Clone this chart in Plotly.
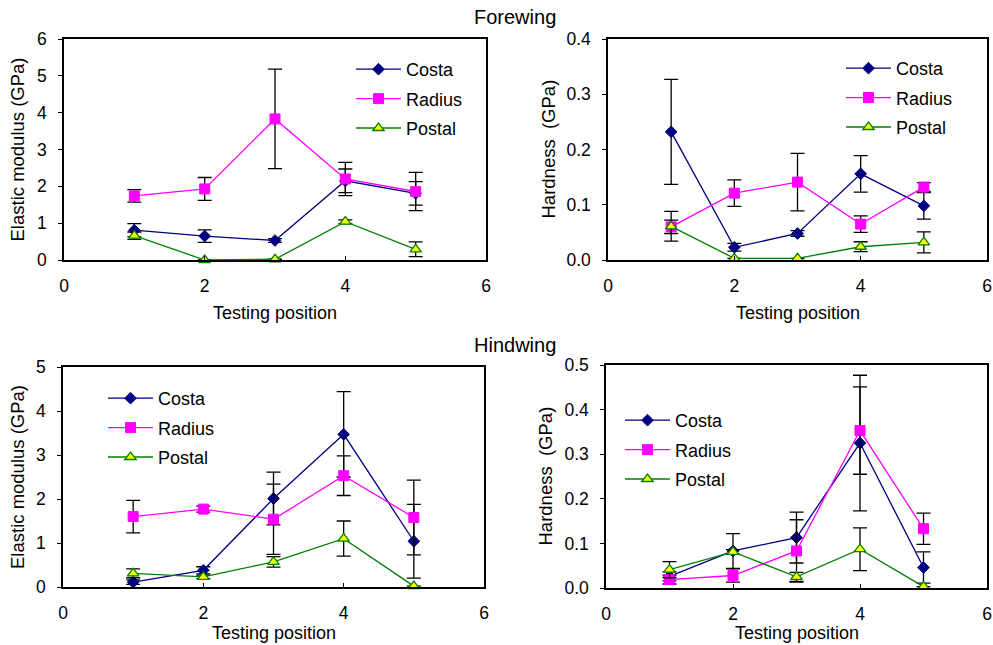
import plotly.graph_objects as go

positions = [1, 2, 3, 4, 5]
series_names = ["Costa", "Radius", "Postal"]

# Forewing elastic modulus (GPa)
fw_mod_costa = [0.81, 0.65, 0.53, 2.15, 1.81]
fw_mod_costa_err = [0.18, 0.17, 0.05, 0.32, 0.32]
fw_mod_radius = [1.74, 1.93, 3.83, 2.2, 1.86]
fw_mod_radius_err = [0.17, 0.31, 1.35, 0.45, 0.52]
fw_mod_postal = [0.66, 0.0, 0.02, 1.04, 0.29]
fw_mod_postal_err = [0.1, 0.0, 0.0, 0.05, 0.2]

# Forewing hardness (GPa)
fw_hd_costa = [0.232, 0.023, 0.048, 0.156, 0.098]
fw_hd_costa_err = [0.095, 0.007, 0.005, 0.033, 0.024]
fw_hd_radius = [0.06, 0.121, 0.141, 0.065, 0.132]
fw_hd_radius_err = [0.012, 0.024, 0.052, 0.015, 0.008]
fw_hd_postal = [0.061, 0.003, 0.003, 0.024, 0.032]
fw_hd_postal_err = [0.027, 0.0, 0.0, 0.009, 0.019]

# Hindwing elastic modulus (GPa)
hw_mod_costa = [0.11, 0.38, 2.01, 3.47, 1.04]
hw_mod_costa_err = [0.05, 0.08, 0.6, 0.97, 0.84]
hw_mod_radius = [1.6, 1.77, 1.54, 2.53, 1.58]
hw_mod_radius_err = [0.37, 0.07, 0.8, 0.45, 0.85]
hw_mod_postal = [0.31, 0.23, 0.57, 1.1, 0.02]
hw_mod_postal_err = [0.1, 0.04, 0.12, 0.4, 0.0]

# Hindwing hardness (GPa)
hw_hd_costa = [0.026, 0.083, 0.113, 0.325, 0.046]
hw_hd_costa_err = [0.01, 0.039, 0.057, 0.152, 0.035]
hw_hd_radius = [0.019, 0.028, 0.083, 0.353, 0.133]
hw_hd_radius_err = [0.01, 0.015, 0.07, 0.098, 0.035]
hw_hd_postal = [0.041, 0.081, 0.025, 0.087, 0.003]
hw_hd_postal_err = [0.018, 0.005, 0.01, 0.048, 0.0]

W, H = 993, 645
FONT = "Liberation Sans, Arial, sans-serif"

styles = {
    "Costa": dict(line=dict(color="#000080", width=1.3),
                  marker=dict(symbol="diamond", size=9, color="#000080",
                              line=dict(color="#000080", width=1))),
    "Radius": dict(line=dict(color="#FF00FF", width=1.3),
                   marker=dict(symbol="square", size=10, color="#FF00FF",
                               line=dict(color="#FF00FF", width=1))),
    "Postal": dict(line=dict(color="#008000", width=1.3),
                   marker=dict(symbol="triangle-up", size=10, color="#FFFF00",
                               line=dict(color="#008000", width=1.3))),
}

panels = [
    dict(vals=[fw_mod_costa, fw_mod_radius, fw_mod_postal],
         errs=[fw_mod_costa_err, fw_mod_radius_err, fw_mod_postal_err],
         xpx=(64, 486), ypx=(39, 260), yr=[0, 6], dt=1, fmt="d",
         ytitle="Elastic modulus (GPa)", ytx=17, leg=(351, 51)),
    dict(vals=[fw_hd_costa, fw_hd_radius, fw_hd_postal],
         errs=[fw_hd_costa_err, fw_hd_radius_err, fw_hd_postal_err],
         xpx=(608, 987), ypx=(39, 260), yr=[0, 0.4], dt=0.1, fmt=".1f",
         ytitle="Hardness  (GPa)", ytx=548, leg=(841, 50)),
    dict(vals=[hw_mod_costa, hw_mod_radius, hw_mod_postal],
         errs=[hw_mod_costa_err, hw_mod_radius_err, hw_mod_postal_err],
         xpx=(63, 484), ypx=(367, 587), yr=[0, 5], dt=1, fmt="d",
         ytitle="Elastic modulus (GPa)", ytx=17, leg=(103, 380)),
    dict(vals=[hw_hd_costa, hw_hd_radius, hw_hd_postal],
         errs=[hw_hd_costa_err, hw_hd_radius_err, hw_hd_postal_err],
         xpx=(606, 987), ypx=(365, 588), yr=[0, 0.5], dt=0.1, fmt=".1f",
         ytitle="Hardness  (GPa)", ytx=545, leg=(620, 402)),
]

fig = go.Figure()
annotations = []
layout = {}

for i, p in enumerate(panels):
    k = "" if i == 0 else str(i + 1)
    xa, ya = "x" + k, "y" + k
    legname = "legend" + k
    for name, v, e in zip(series_names, p["vals"], p["errs"]):
        st = styles[name]
        fig.add_trace(go.Scatter(
            x=positions, y=v, name=name, mode="lines+markers",
            line=st["line"], marker=st["marker"],
            error_y=dict(type="data", array=e, visible=True, color="black",
                         thickness=1.3, width=7),
            xaxis=xa, yaxis=ya, legend=legname, legendgroup=name + k,
            cliponaxis=False,
        ))
    x0, x1 = p["xpx"]
    yt, yb = p["ypx"]
    layout["xaxis" + k] = dict(
        domain=[x0 / W, x1 / W], range=[0, 6], dtick=2, tick0=0,
        anchor=ya, showline=True, linecolor="black", linewidth=1.5,
        mirror=True, ticks="inside", ticklen=4, tickcolor="black",
        showgrid=False, zeroline=False, ticklabelstandoff=9,
        automargin=False, ticklabeloverflow="allow",
        tickfont=dict(family=FONT, size=17.5, color="black"),
    )
    layout["yaxis" + k] = dict(
        domain=[(H - yb) / H, (H - yt) / H], range=p["yr"], dtick=p["dt"],
        tick0=0, tickformat=p["fmt"],
        anchor=xa, showline=True, linecolor="black", linewidth=1.5,
        mirror=True, ticks="outside", ticklen=4, tickcolor="black",
        showgrid=False, zeroline=False, ticklabelstandoff=8,
        automargin=False, ticklabeloverflow="allow",
        tickfont=dict(family=FONT, size=17.5, color="black"),
    )
    lx, ly = p["leg"]
    layout[legname] = dict(
        x=lx / W, y=(H - ly) / H, xanchor="left", yanchor="top",
        bgcolor="rgba(0,0,0,0)", itemwidth=45, tracegroupgap=3,
        font=dict(family=FONT, size=18, color="black"),
    )
    annotations.append(dict(
        text=p["ytitle"], x=p["ytx"] / W, y=(H - (yt + yb) / 2) / H,
        xref="paper", yref="paper", textangle=-90, showarrow=False,
        font=dict(family=FONT, size=18.5, color="black"),
        xanchor="center", yanchor="middle",
    ))
    xty = 313 if i < 2 else 633
    annotations.append(dict(
        text="Testing position", x=(x0 + x1) / 2 / W, y=(H - xty) / H,
        xref="paper", yref="paper", showarrow=False,
        font=dict(family=FONT, size=18, color="black"),
        xanchor="center", yanchor="middle",
    ))

annotations.append(dict(text="Forewing", x=515 / W, y=(H - 17) / H,
                        xref="paper", yref="paper", showarrow=False,
                        font=dict(family=FONT, size=20, color="black"),
                        xanchor="center", yanchor="middle"))
annotations.append(dict(text="Hindwing", x=515 / W, y=(H - 345) / H,
                        xref="paper", yref="paper", showarrow=False,
                        font=dict(family=FONT, size=20, color="black"),
                        xanchor="center", yanchor="middle"))

fig.update_layout(
    template="none",
    width=W, height=H, margin=dict(l=0, r=0, t=0, b=0, autoexpand=False),
    paper_bgcolor="white", plot_bgcolor="white",
    showlegend=True, annotations=annotations,
    font=dict(family=FONT, color="black"),
    **layout,
)

fig.write_html(
    "out.html",
    config={"displayModeBar": False},
    post_script="document.body.style.margin='0';document.body.style.padding='0';document.body.style.overflow='hidden';",
)
